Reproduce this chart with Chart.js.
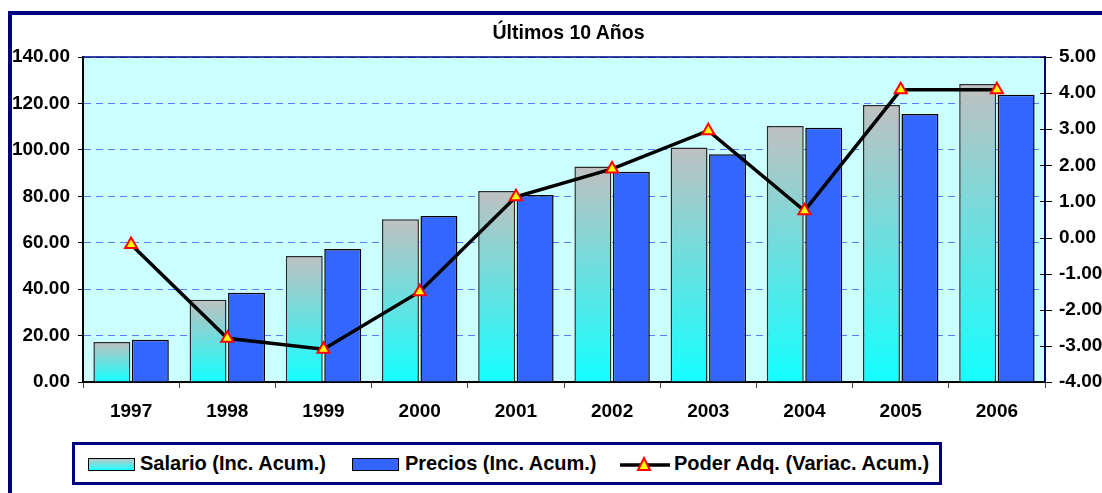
<!DOCTYPE html>
<html>
<head>
<meta charset="utf-8">
<script src="https://cdn.jsdelivr.net/npm/chart.js@4"></script>
<style>
  html, body { margin: 0; padding: 0; background: #fff; overflow: hidden; }
  body { width: 1102px; height: 493px; position: relative; font-family: 'Liberation Sans', Arial, sans-serif; }
  #frame { position: absolute; left: 8px; top: 11px; width: 1300px; height: 700px; border: 4px solid #000080; box-sizing: border-box; }
  #wrap { position: absolute; left: 0; top: 0; width: 1102px; height: 493px; }
  #title { position: absolute; left: 0; width: 1137px; top: 20px; text-align: center; font-weight: bold; font-size: 19.5px; color: #000; line-height: 24px; }
  #legend { position: absolute; left: 72px; top: 442px; width: 870px; height: 43px; border: 3px solid #000080; box-sizing: border-box; background: #fff; }
  .sw { position: absolute; top: 13px; width: 45px; height: 11px; border: 1px solid #000; }
  .lt { position: absolute; top: 6px; font-weight: bold; font-size: 20px; line-height: 24px; white-space: nowrap; color: #000; }
</style>
</head>
<body>
<div id="frame"></div>
<div id="wrap"><canvas id="chart" width="1102" height="493"></canvas></div>
<div id="title">Últimos 10 Años</div>
<div id="legend">
  <div class="sw" style="left:13px; background: linear-gradient(#b8c8c8, #20ffff);"></div>
  <div class="lt" style="left:65px;">Salario (Inc. Acum.)</div>
  <div class="sw" style="left:277px; background:#3366ff;"></div>
  <div class="lt" style="left:330px;">Precios (Inc. Acum.)</div>
  <svg style="position:absolute; left:545px; top:8px;" width="52" height="24">
    <line x1="0" y1="12" x2="50" y2="12" stroke="#000" stroke-width="3.5"/>
    <polygon points="24,5 30,17 18,17" fill="#ffff00" stroke="#ff0000" stroke-width="2"/>
  </svg>
  <div class="lt" style="left:599px;">Poder Adq. (Variac. Acum.)</div>
</div>
<script>
const years    = ['1997','1998','1999','2000','2001','2002','2003','2004','2005','2006'];
const salario  = [17.2, 35.4, 54.3, 70.1, 82.3, 92.8, 101.0, 110.3, 119.3, 128.4];
const precios  = [18.2, 38.5, 57.3, 71.5, 80.6, 90.6, 98.1, 109.5, 115.5, 123.7];
const poder    = [-0.19, -2.79, -3.09, -1.50, 1.13, 1.90, 2.96, 0.74, 4.09, 4.09];

const leftTicks  = { min: 0, max: 140, step: 20 };
const rightTicks = { min: -4, max: 5, step: 1 };

const font = { family: "'Liberation Sans', Arial, sans-serif", size: 19, weight: 'bold' };

// plot background + top border
const plotFrame = {
  id: 'plotFrame',
  beforeDraw(chart) {
    const { ctx, chartArea: a } = chart;
    ctx.save();
    ctx.fillStyle = '#ccffff';
    ctx.fillRect(a.left, a.top, a.right - a.left, a.bottom - a.top);
    ctx.restore();
  },
  afterDraw(chart) {
    const { ctx, chartArea: a } = chart;
    ctx.save();
    ctx.strokeStyle = '#000080';
    ctx.lineWidth = 1.5;
    ctx.beginPath();
    ctx.moveTo(a.left, a.top);
    ctx.lineTo(a.right, a.top);
    ctx.stroke();
    // right axis ticks cross the axis line
    const y2 = chart.scales.y2;
    ctx.strokeStyle = '#000';
    ctx.lineWidth = 1;
    y2.ticks.forEach(t => {
      const y = Math.round(y2.getPixelForValue(t.value)) + 0.5;
      ctx.beginPath();
      ctx.moveTo(a.right - 5, y);
      ctx.lineTo(a.right + 7, y);
      ctx.stroke();
    });
    ctx.restore();
  }
};

function salarioFill(c) {
  const chart = c.chart;
  if (!chart.chartArea || c.type !== 'data') return '#9ee';
  const ys = chart.scales.y;
  const top = ys.getPixelForValue(c.raw);
  const base = ys.getPixelForValue(0);
  const g = chart.ctx.createLinearGradient(0, top, 0, base);
  g.addColorStop(0, '#c0c0c0');
  g.addColorStop(1, '#14ffff');
  return g;
}

new Chart(document.getElementById('chart'), {
  type: 'bar',
  data: {
    labels: years,
    datasets: [
      {
        type: 'line',
        label: 'Poder Adq. (Variac. Acum.)',
        data: poder,
        yAxisID: 'y2',
        order: 0,
        borderColor: '#000',
        borderWidth: 3.5,
        tension: 0,
        pointStyle: 'triangle',
        pointRadius: 7,
        pointBackgroundColor: '#ffff00',
        pointBorderColor: '#ff0000',
        pointBorderWidth: 2,
      },
      {
        label: 'Salario (Inc. Acum.)',
        data: salario,
        yAxisID: 'y',
        order: 1,
        backgroundColor: salarioFill,
        borderColor: '#2a2a2a',
        borderWidth: 1.5,
        categoryPercentage: 0.8,
        barPercentage: 0.96,
      },
      {
        label: 'Precios (Inc. Acum.)',
        data: precios,
        yAxisID: 'y',
        order: 2,
        backgroundColor: '#3366ff',
        borderColor: '#000',
        borderWidth: 1.5,
        categoryPercentage: 0.8,
        barPercentage: 0.96,
      },
    ],
  },
  options: {
    responsive: false,
    animation: false,
    layout: { padding: { top: 57, left: 0, right: 0, bottom: 0 } },
    plugins: {
      legend: { display: false },
      title:  { display: false },
      tooltip: { enabled: false },
    },
    scales: {
      x: {
        afterFit: s => { s.height = 111; },
        grid:   { offset: true, drawOnChartArea: false, tickLength: 6, tickColor: '#444', tickWidth: 1 },
        border: { color: '#000', width: 2 },
        ticks:  { color: '#000', font, padding: 12, maxRotation: 0 },
      },
      y: {
        position: 'left',
        min: leftTicks.min, max: leftTicks.max,
        afterFit: s => { s.width = 83; },
        ticks:  { stepSize: leftTicks.step, color: '#000', font, padding: 8, callback: v => v.toFixed(2) },
        grid:   { color: '#5a7cff', lineWidth: 1, tickColor: '#000', tickLength: 5 },
        border: { color: '#000', width: 2, dash: [7, 5] },
      },
      y2: {
        position: 'right',
        min: rightTicks.min, max: rightTicks.max,
        afterFit: s => { s.width = 57; },
        ticks:  { stepSize: rightTicks.step, color: '#000', font, padding: 7, callback: v => v.toFixed(2) },
        grid:   { drawOnChartArea: false, drawTicks: true, tickLength: 7, tickColor: 'rgba(0,0,0,0)' },
        border: { color: '#000080', width: 2 },
      },
    },
  },
  plugins: [plotFrame],
});
</script>
</body>
</html>
